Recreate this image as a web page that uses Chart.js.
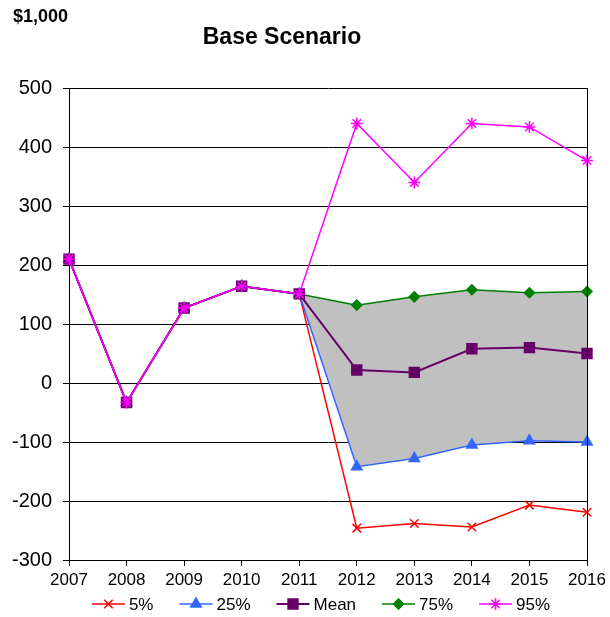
<!DOCTYPE html>
<html lang="en">
<head>
  <meta charset="UTF-8">
  <title>Base Scenario</title>
  <style>
    html, body { margin: 0; padding: 0; background: #fff; }
    .chart-container { width: 610px; height: 617px; }
  </style>
</head>
<body>
  <div class="chart-container">
    <canvas id="myChart" width="610" height="617"></canvas>
  </div>

  <script src="https://cdn.jsdelivr.net/npm/chart.js"></script>
  <script>
    // Data.
    const years = ['2007', '2008', '2009', '2010', '2011', '2012', '2013', '2014', '2015', '2016'];
    const p5   = [210, -33, 127, 164, 151, -246, -238, -244, -207, -219];
    const p25  = [210, -33, 127, 164, 151, -142, -128, -105, -98, -100];
    const mean = [210, -33, 127, 164, 151, 22, 18, 58, 60, 50];
    const p75  = [210, -33, 127, 164, 151, 132, 146, 158, 153, 155];
    const p95  = [210, -33, 127, 164, 151, 440, 340, 440, 434, 377];

    const FONT = '"Liberation Sans", Arial, sans-serif';

    function series(label, data, color, style, radius, order, width) {
      return {
        label,
        data,
        borderColor: color,
        backgroundColor: color,
        pointBackgroundColor: color,
        pointBorderColor: color,
        pointStyle: style,
        pointRadius: radius,
        pointBorderWidth: 1.5,
        borderWidth: width || 1.5,
        tension: 0,
        fill: false,
        order
      };
    }

    const datasets = [
      series('5%', p5, '#FF0000', 'crossRot', 6, 4),
      series('25%', p25, '#3366FF', 'triangle', 6, 3),
      series('Mean', mean, '#660066', 'rect', 7, 1, 2),
      series('75%', p75, '#008000', 'rectRot', 5, 2),
      series('95%', p95, '#FF00FF', 'star', 6, 0)
    ];
    // Gray band between the 75% and 25% lines.
    datasets[3].fill = {target: 1};
    datasets[3].backgroundColor = '#C0C0C0';

    // Headings, right frame and legend (line + marker + text) drawn on the canvas.
    const extras = {
      id: 'extras',
      afterDraw(chart) {
        const ctx = chart.ctx;
        const area = chart.chartArea;
        ctx.save();

        // right frame
        ctx.strokeStyle = '#000';
        ctx.lineWidth = 1;
        ctx.beginPath();
        ctx.moveTo(area.right + 0.5, area.top);
        ctx.lineTo(area.right + 0.5, area.bottom);
        ctx.stroke();

        ctx.fillStyle = '#000';
        ctx.textBaseline = 'middle';
        ctx.font = 'bold 18px ' + FONT;
        ctx.textAlign = 'left';
        ctx.fillText('$1,000', 13, 17);
        ctx.font = 'bold 23px ' + FONT;
        ctx.textAlign = 'center';
        ctx.fillText('Base Scenario', 282, 38);

        // legend
        ctx.font = '17px ' + FONT;
        const lineLen = 33, gap = 4, spacing = 26;
        const items = chart.data.datasets.map(ds => ({ds, w: lineLen + gap + ctx.measureText(ds.label).width}));
        const total = items.reduce((s, it) => s + it.w, 0) + spacing * (items.length - 1);
        let x = 321 - total / 2;
        const y = 604;
        items.forEach(({ds, w}) => {
          ctx.strokeStyle = ds.borderColor;
          ctx.fillStyle = ds.pointBackgroundColor;
          ctx.lineWidth = ds.borderWidth;
          ctx.beginPath();
          ctx.moveTo(x, y);
          ctx.lineTo(x + lineLen, y);
          ctx.stroke();
          if (Chart.helpers && Chart.helpers.drawPoint) {
            ctx.lineWidth = 1.5;
            Chart.helpers.drawPoint(ctx, {pointStyle: ds.pointStyle, radius: ds.pointRadius, rotation: 0, borderWidth: 1.5}, x + lineLen / 2, y);
          }
          ctx.fillStyle = '#000';
          ctx.textAlign = 'left';
          ctx.fillText(ds.label, x + lineLen + gap, y + 1);
          x += w + spacing;
        });
        ctx.restore();
      }
    };

    const config = {
      type: 'line',
      data: {labels: years, datasets},
      options: {
        responsive: false,
        animation: false,
        layout: {padding: {top: 88, right: 23, bottom: 26, left: 0}},
        plugins: {
          legend: {display: false},
          title: {display: false},
          tooltip: {enabled: false},
          filler: {drawTime: 'beforeDatasetsDraw'}
        },
        scales: {
          x: {
            type: 'category',
            offset: false,
            grid: {
              drawOnChartArea: false,
              drawTicks: true,
              tickLength: 6,
              color: '#000'
            },
            border: {color: '#000', width: 1},
            ticks: {
              color: '#000',
              padding: 4,
              maxRotation: 0,
              autoSkip: false,
              font: {family: FONT, size: 17}
            },
            afterFit: scale => { scale.height = 31; }
          },
          y: {
            min: -300,
            max: 500,
            ticks: {
              stepSize: 100,
              color: '#000',
              padding: 11,
              font: {family: FONT, size: 20}
            },
            grid: {
              color: '#000',
              lineWidth: 1,
              tickLength: 6
            },
            border: {color: '#000', width: 1},
            afterFit: scale => { scale.width = 69; }
          }
        }
      },
      plugins: [extras]
    };

    const chart = new Chart(document.querySelector('#myChart'), config);
    window.chart = chart;
  </script>
</body>
</html>
